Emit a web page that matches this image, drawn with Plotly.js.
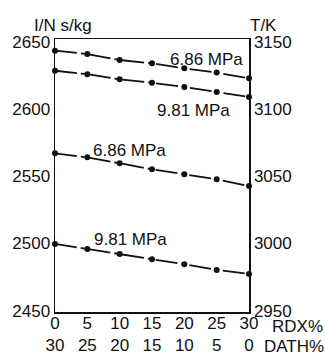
<!DOCTYPE html>
<html>
<head>
<meta charset="utf-8">
<script src="https://cdn.plot.ly/plotly-3.0.1.min.js"></script>
<style>
  html, body { margin: 0; padding: 0; background: #fff; }
  #chart { width: 325px; height: 352px; }
</style>
</head>
<body>
<div id="chart"></div>
<script>
// RDX content (%) — DATH makes up the rest of the 30 %
const rdx = [0, 5, 10, 15, 20, 25, 30];
const dath = [30, 25, 20, 15, 10, 5, 0];

// Combustion temperature T (K)
const temp686 = [3143.3, 3140.8, 3136.4, 3133.9, 3130.2, 3127.0, 3122.8];
const temp981 = [3128.4, 3125.8, 3122.0, 3119.5, 3116.3, 3112.6, 3108.9];

// Specific impulse I (N·s/kg)
const isp686 = [2567.0, 2564.0, 2559.6, 2555.1, 2551.4, 2547.7, 2542.7];
const isp981 = [2499.6, 2495.9, 2492.2, 2488.2, 2484.5, 2480.3, 2477.3];

const ispTicks = [2450, 2500, 2550, 2600, 2650];
const tempTicks = [2950, 3000, 3050, 3100, 3150];

const FONT = 'Liberation Sans, Arial, sans-serif';
const FS = 17;
const dashStyle = '22px,4px,4px,4px';

function series(y, axis) {
  return {
    x: rdx, y: y, yaxis: axis, type: 'scatter', mode: 'lines+markers',
    line: {color: '#111', width: 1.8, dash: dashStyle},
    marker: {color: '#111', size: 6},
    showlegend: false, cliponaxis: false, hoverinfo: 'skip'
  };
}

const data = [
  series(temp686, 'y2'),
  series(temp981, 'y2'),
  series(isp686, 'y'),
  series(isp981, 'y')
];

const ticktext = rdx.map((r, i) => r + '<br>' + dath[i]);

function note(text, xref, yref, x, y, xanchor) {
  return {text: text, xref: xref, yref: yref, x: x, y: y,
          xanchor: xanchor || 'left', yanchor: 'middle',
          showarrow: false, font: {size: FS}};
}

const layout = {
  width: 325, height: 352,
  margin: {l: 55, r: 76, t: 39, b: 40},
  paper_bgcolor: '#fff', plot_bgcolor: '#fff',
  font: {family: FONT, size: FS, color: '#111'},
  xaxis: {
    range: [0, 30], tickvals: rdx, ticktext: ticktext,
    showgrid: false, zeroline: false, ticks: '', ticklabelstandoff: -5,
    showline: true, linecolor: '#111', linewidth: 1.5, mirror: true,
    tickfont: {size: FS}, fixedrange: true
  },
  yaxis: {
    range: [2449, 2652], tickvals: ispTicks,
    showgrid: false, zeroline: false, ticks: '',
    showline: true, linecolor: '#111', linewidth: 1.5,
    tickfont: {size: FS}, fixedrange: true
  },
  yaxis2: {
    range: [2949, 3152], tickvals: tempTicks, overlaying: 'y', side: 'right',
    showgrid: false, zeroline: false, ticks: '',
    showline: true, linecolor: '#111', linewidth: 1.5,
    tickfont: {size: FS}, fixedrange: true
  },
  annotations: [
    note('I/N s/kg', 'paper', 'paper', -0.119, 1.051),
    note('T/K', 'paper', 'paper', 0.995, 1.051),
    note('6.86 MPa', 'x', 'y2', 17.5, 3136.5),
    note('9.81 MPa', 'x', 'y2', 15.5, 3099),
    note('6.86 MPa', 'x', 'y', 5.57, 2569),
    note('9.81 MPa', 'x', 'y', 5.7, 2503),
    note('RDX%', 'paper', 'paper', 1.108, -0.052),
    note('DATH%', 'paper', 'paper', 1.067, -0.128)
  ]
};

Plotly.newPlot('chart', data, layout, {staticPlot: true, displayModeBar: false});
</script>
</body>
</html>
